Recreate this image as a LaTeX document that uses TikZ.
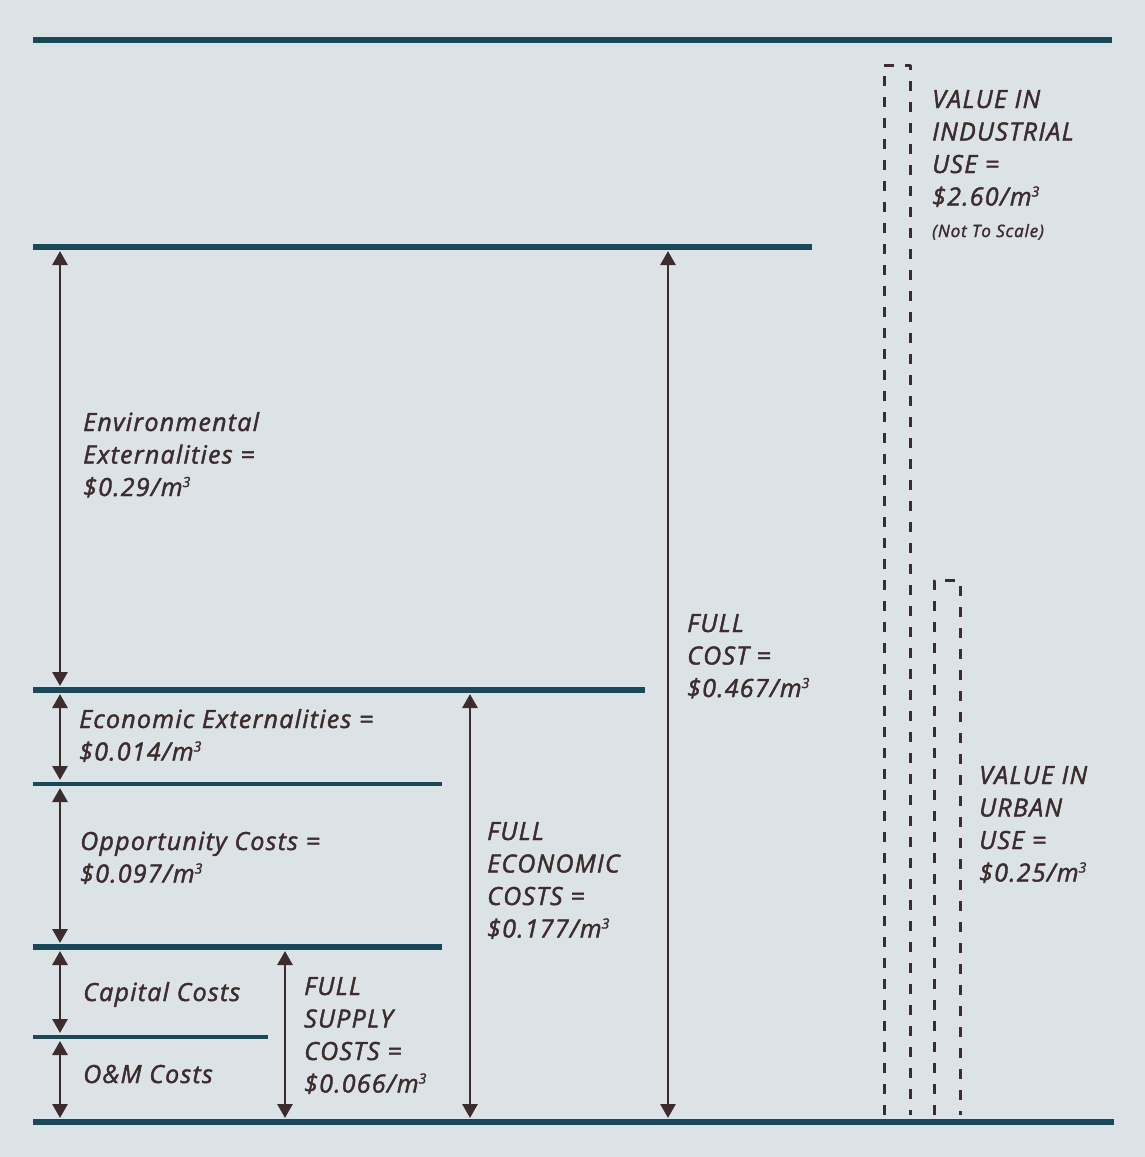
\documentclass[tikz,border=0pt]{standalone}
\usepackage{fontspec}
\setmainfont{Open Sans}[ItalicFeatures={FakeBold=1.7, LetterSpace=5}]
\usetikzlibrary{arrows.meta}
\definecolor{bgcol}{RGB}{220,227,230}
\definecolor{barcol}{RGB}{26,72,88}
\definecolor{inkcol}{RGB}{61,43,46}
\tikzset{
  level/.style={barcol, line width=6pt},
  thinlevel/.style={barcol, line width=3.5pt},
  dim/.style={inkcol, line width=2.8pt, {Triangle[length=14pt,width=15pt]}-{Triangle[length=14pt,width=15pt]}, shorten <=4pt, shorten >=4pt},
  valuebar/.style={inkcol, line width=3pt, dash pattern=on 10pt off 11pt},
  lbl/.style={inkcol, anchor=base west, align=left, inner sep=0pt, font=\fontsize{25}{32.5}\selectfont\itshape},
}
\newcommand{\cub}{\raisebox{0.36em}{\fontsize{14}{14}\selectfont 3}}
\begin{document}
\begin{tikzpicture}[x=1pt, y=-1pt, line join=round]
  \def\yTop{40} \def\yFull{247} \def\yEcon{690}
  \def\yOpp{784} \def\ySup{947} \def\yCap{1037} \def\yBot{1122}
  \fill[bgcol] (0,0) rectangle (1145,1157);
  \useasboundingbox (0,0) rectangle (1145,1157);
  % cost levels
  \draw[level] (33,\yTop) -- (1112,\yTop);
  \draw[level] (33,\yFull) -- (812,\yFull);
  \draw[level] (33,\yEcon) -- (645,\yEcon);
  \draw[thinlevel] (33,\yOpp) -- (442,\yOpp);
  \draw[level] (33,\ySup) -- (442,\ySup);
  \draw[thinlevel] (33,\yCap) -- (268,\yCap);
  \draw[level] (33,\yBot) -- (1114,\yBot);
  % arrow end points
  \coordinate (env-t) at (60,\yFull);  \coordinate (env-b) at (60,\yEcon);
  \coordinate (ext-t) at (60,\yEcon);  \coordinate (ext-b) at (60,\yOpp);
  \coordinate (opp-t) at (60,\yOpp);   \coordinate (opp-b) at (60,\ySup);
  \coordinate (cap-t) at (60,\ySup);   \coordinate (cap-b) at (60,\yCap);
  \coordinate (om-t) at (60,\yCap);    \coordinate (om-b) at (60,\yBot);
  \coordinate (sup-t) at (285,\ySup);  \coordinate (sup-b) at (285,\yBot);
  \coordinate (eco-t) at (470,\yEcon); \coordinate (eco-b) at (470,\yBot);
  \coordinate (full-t) at (668,\yFull); \coordinate (full-b) at (668,\yBot);
  \foreach \n in {env,ext,opp,cap,om,sup,eco,full}
    \draw[dim] (\n-t) -- (\n-b);
  % value bars (dashed)
  \coordinate (ind-a) at (884,1115); \coordinate (ind-b) at (884,65);
  \coordinate (ind-c) at (910,65);   \coordinate (ind-d) at (910,1115);
  \coordinate (urb-a) at (934,1115); \coordinate (urb-b) at (934,580);
  \coordinate (urb-c) at (960,580);  \coordinate (urb-d) at (960,1115);
  \draw[valuebar] (ind-a) -- (ind-b) -- (ind-c) -- (ind-d);
  \draw[valuebar] (urb-a) -- (urb-b) -- (urb-c) -- (urb-d);
  % labels (placed at the baseline of their last line)
  \node[lbl] (env) at (83,496) {Environmental\\Externalities =\\\$0.29/m\cub};
  \node[lbl] (ext) at (79,760.5) {Economic Externalities =\\\$0.014/m\cub};
  \node[lbl] (opp) at (80,882.5) {Opportunity Costs =\\\$0.097/m\cub};
  \node[lbl] (cap) at (83,1001) {Capital Costs};
  \node[lbl] (om) at (83,1083) {O\&M Costs};
  \node[lbl] (sup) at (304,1092.5) {FULL\\SUPPLY\\COSTS =\\\$0.066/m\cub};
  \node[lbl] (eco) at (487,937.5) {FULL\\ECONOMIC\\COSTS =\\\$0.177/m\cub};
  \node[lbl] (full) at (687,697) {FULL\\COST =\\\$0.467/m\cub};
  \node[lbl] (ind) at (932,205.5) {VALUE IN\\INDUSTRIAL\\USE =\\\$2.60/m\cub};
  \node[lbl, font=\fontsize{17}{20}\selectfont\itshape] (scale) at (932,237) {(Not To Scale)};
  \node[lbl] (urb) at (979,881.5) {VALUE IN\\URBAN\\USE =\\\$0.25/m\cub};
\end{tikzpicture}
\end{document}
